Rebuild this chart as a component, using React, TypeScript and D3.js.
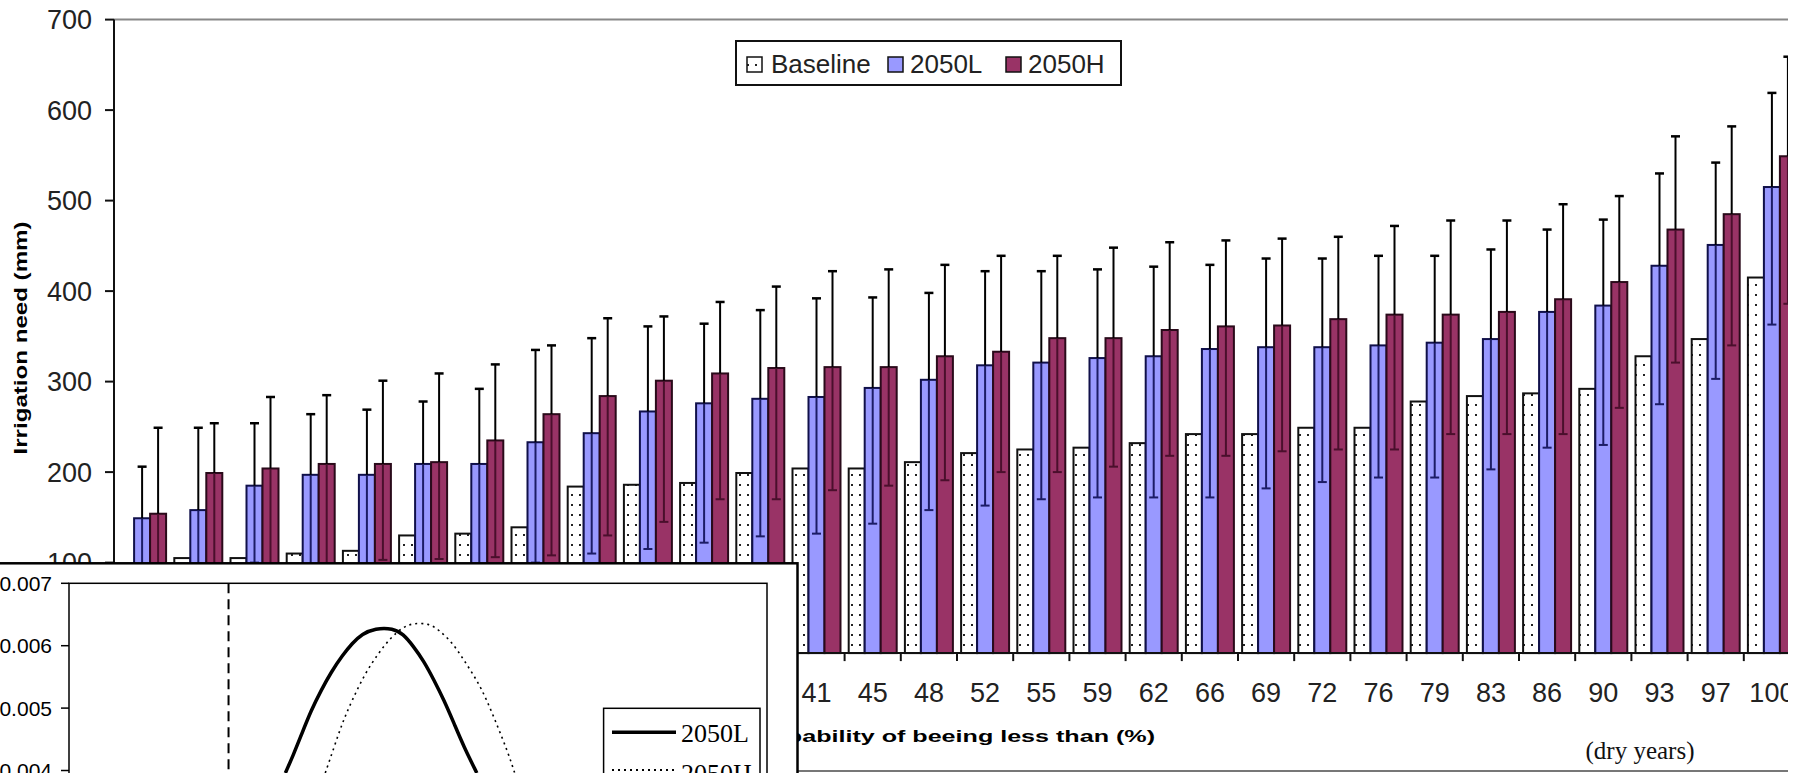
import * as d3 from "d3";

// probability of being less than (%), one group per year rank
const categories = ["0", "3", "7", "10", "14", "17", "21", "24", "28", "31", "34", "38", "41", "45", "48",
  "52", "55", "59", "62", "66", "69", "72", "76", "79", "83", "86", "90", "93", "97", "100"];

// irrigation need (mm)
const baseline = [85, 105, 105, 110, 113, 130, 132, 139, 184, 186, 188, 199, 204, 204, 211,
  221, 225, 227, 232, 242, 242, 249, 249, 278, 284, 287, 292, 328, 347, 415];
const s2050L = [149, 158, 185, 197, 197, 209, 209, 233, 243, 267, 276, 281, 283, 293, 302,
  318, 321, 326, 328, 336, 338, 338, 340, 343, 347, 377, 384, 428, 451, 515];
const s2050H = [154, 199, 204, 209, 209, 211, 235, 264, 284, 301, 309, 315, 316, 316, 328,
  333, 348, 348, 357, 361, 362, 369, 374, 374, 377, 391, 410, 468, 485, 549];

// error bar ends
const s2050LHi = [206, 249, 254, 264, 269, 278, 292, 335, 348, 361, 364, 379, 392, 393, 398,
  422, 422, 424, 427, 429, 436, 436, 439, 439, 446, 468, 479, 530, 542, 619];
const s2050LLo = [90, 95, 100, 98, 96, 95, 97, 100, 110, 115, 122, 129, 132, 143, 158,
  163, 170, 172, 172, 172, 182, 189, 194, 194, 203, 227, 230, 275, 303, 363];
const s2050HHi = [249, 254, 283, 285, 301, 309, 319, 340, 370, 372, 388, 405, 422, 424, 429,
  439, 439, 448, 454, 456, 458, 460, 472, 478, 478, 496, 505, 571, 582, 659];
const s2050HLo = [70, 85, 90, 95, 103, 104, 106, 108, 130, 145, 170, 170, 180, 185, 191,
  200, 200, 206, 218, 218, 223, 225, 225, 242, 242, 242, 271, 321, 340, 386];

const yTicks = [0, 100, 200, 300, 400, 500, 600, 700];

// inset: density curves (irrigation need mm, density)
const insetTicks = [0.004, 0.005, 0.006, 0.007];
const insetCurveL: [number, number][] = [
  [217, 0.00396], [225, 0.00425], [233, 0.00457], [243, 0.00497], [253, 0.00529], [263, 0.00558],
  [274, 0.00584], [284, 0.00604], [294, 0.00619], [307, 0.00628], [325, 0.00628], [335, 0.00619],
  [345, 0.00600], [356, 0.00575], [366, 0.00545], [376, 0.00513], [386, 0.00476], [396, 0.00438],
  [409, 0.00396]];
const insetCurveH: [number, number][] = [
  [257, 0.00396], [266, 0.00438], [274, 0.00476], [284, 0.00513], [297, 0.00556], [310, 0.00587],
  [322, 0.00612], [335, 0.0063], [345, 0.00636], [361, 0.00636], [371, 0.00625], [384, 0.00606],
  [396, 0.00577], [409, 0.00545], [419, 0.00513], [430, 0.0047], [440, 0.0043], [447, 0.00396]];
const insetDry = 160;

const FONT = "'Liberation Sans', Arial, sans-serif";
const SERIF = "'Liberation Serif', 'Times New Roman', serif";
const BLUE = "#9999ff";
const MAROON = "#993366";

export default function App() {
  const x = d3.scaleBand<string>().domain(categories).range([114, 1800]).paddingInner(0.146).paddingOuter(0.073);
  const xs = d3.scaleBand<string>().domain(["b", "l", "h"]).range([0, x.bandwidth()]);
  const y = d3.scaleLinear().domain([0, 700]).range([653.1, 19.6]);

  const ix = d3.scaleLinear().domain([0, 700]).range([69, 767]);
  const iy = d3.scaleLinear().domain([0, 0.007]).range([583.3 + 7 * 62.4, 583.3]);
  const line = d3.line<[number, number]>().x((d) => ix(d[0])).y((d) => iy(d[1])).curve(d3.curveBasis);

  const step = x.step();
  const x0 = x.range()[0];

  const errBar = (cx: number, v: number, hi: number, lo: number, inner: string, key: string) => (
    <g key={key}>
      <line x1={cx} x2={cx} y1={y(v)} y2={y(lo)} stroke={inner} strokeWidth={2} />
      <line x1={cx - 4.5} x2={cx + 4.5} y1={y(lo)} y2={y(lo)} stroke={inner} strokeWidth={2} />
      <line x1={cx} x2={cx} y1={y(v)} y2={y(hi)} stroke="#000" strokeWidth={2} />
      <line x1={cx - 4.5} x2={cx + 4.5} y1={y(hi)} y2={y(hi)} stroke="#000" strokeWidth={2.5} />
    </g>
  );

  return (
    <svg width={1804} height={773} style={{ position: "absolute", left: 0, top: 0, background: "#fff" }}>
      <defs>
        <pattern id="dots" patternUnits="userSpaceOnUse" width={8} height={10}>
          <rect width={8} height={10} fill="#fff" />
          <rect x={3} y={4} width={2} height={2} fill="#222" />
        </pattern>
        <clipPath id="insetClip">
          <rect x={69} y={583.3} width={698} height={200} />
        </clipPath>
      </defs>
      <rect width={1804} height={773} fill="#fff" />

      {/* main frame */}
      <line x1={114} x2={1800} y1={19.6} y2={19.6} stroke="#888" strokeWidth={2} />

      {/* bars */}
      {categories.map((c, i) => {
        const bx = x(c)!;
        return (
          <g key={c}>
            <rect x={bx + xs("b")!} y={y(baseline[i])} width={xs.bandwidth()} height={y(0) - y(baseline[i])}
              fill="url(#dots)" stroke="#111" strokeWidth={2} />
            <rect x={bx + xs("l")!} y={y(s2050L[i])} width={xs.bandwidth()} height={y(0) - y(s2050L[i])}
              fill={BLUE} stroke="#10104a" strokeWidth={2} />
            <rect x={bx + xs("h")!} y={y(s2050H[i])} width={xs.bandwidth()} height={y(0) - y(s2050H[i])}
              fill={MAROON} stroke="#2a0a1a" strokeWidth={2} />
          </g>
        );
      })}
      {categories.map((c, i) => {
        const bx = x(c)!;
        const w = xs.bandwidth();
        return (
          <g key={"e" + c}>
            {errBar(bx + xs("l")! + w / 2, s2050L[i], s2050LHi[i], s2050LLo[i], "#1c1c66", "l")}
            {errBar(bx + xs("h")! + w / 2, s2050H[i], s2050HHi[i], s2050HLo[i], "#4a0f2c", "h")}
          </g>
        );
      })}

      {/* y axis */}
      <line x1={114} x2={114} y1={19.6} y2={y(0)} stroke="#111" strokeWidth={2} />
      {yTicks.map((t) => (
        <g key={t}>
          <line x1={105} x2={114} y1={y(t)} y2={y(t)} stroke="#111" strokeWidth={2} />
          <text x={92} y={y(t)} dy="0.36em" textAnchor="end" fontFamily={FONT} fontSize={27} fill="#222">{t}</text>
        </g>
      ))}
      <text transform={`translate(27,${338}) rotate(-90)`} textAnchor="middle" fontFamily={FONT} fontWeight="bold"
        fontSize={18} textLength={233} lengthAdjust="spacingAndGlyphs" fill="#000">Irrigation need (mm)</text>

      {/* x axis */}
      <line x1={114} x2={1800} y1={y(0)} y2={y(0)} stroke="#111" strokeWidth={2} />
      {d3.range(1, categories.length + 1).map((i) => (
        <line key={i} x1={x0 + i * step} x2={x0 + i * step} y1={y(0)} y2={y(0) + 8} stroke="#111" strokeWidth={2} />
      ))}
      {categories.map((c) => (
        <text key={c} x={x(c)! + x.bandwidth() / 2} y={702} textAnchor="middle" fontFamily={FONT} fontSize={27} fill="#222">{c}</text>
      ))}
      <text x={745} y={742} fontFamily={FONT} fontWeight="bold" fontSize={17} textLength={410}
        lengthAdjust="spacingAndGlyphs" fill="#000">Probability of beeing less than (%)</text>

      {/* legend */}
      <rect x={736} y={41} width={385} height={44} fill="#fff" stroke="#111" strokeWidth={2} />
      <rect x={747} y={57} width={15} height={15} fill="url(#dots)" stroke="#111" strokeWidth={1.5} />
      <text x={771} y={73} fontFamily={FONT} fontSize={26} fill="#222">Baseline</text>
      <rect x={888} y={57} width={15} height={15} fill={BLUE} stroke="#111" strokeWidth={1.5} />
      <text x={910} y={73} fontFamily={FONT} fontSize={26} fill="#222">2050L</text>
      <rect x={1006} y={57} width={15} height={15} fill={MAROON} stroke="#111" strokeWidth={1.5} />
      <text x={1028} y={73} fontFamily={FONT} fontSize={26} fill="#222">2050H</text>

      {/* crop on the right */}
      <rect x={1788} y={0} width={16} height={773} fill="#fff" />
      <line x1={797} x2={1788} y1={771} y2={771} stroke="#777" strokeWidth={2} />
      <text x={1640} y={759} textAnchor="middle" fontFamily={SERIF} fontSize={25} fill="#111">(dry years)</text>

      {/* inset */}
      <rect x={-2} y={563.3} width={799.5} height={220} fill="#fff" stroke="#000" strokeWidth={2.5} />
      <rect x={69} y={583.3} width={698} height={200} fill="#fff" stroke="#000" strokeWidth={1.5} />
      {insetTicks.map((t) => (
        <g key={t}>
          <line x1={61} x2={69} y1={iy(t)} y2={iy(t)} stroke="#000" strokeWidth={1.5} />
          <text x={52} y={iy(t)} dy="0.36em" textAnchor="end" fontFamily={FONT} fontSize={21} fill="#000">{t.toFixed(3)}</text>
        </g>
      ))}
      <g clipPath="url(#insetClip)">
        <line x1={ix(insetDry)} x2={ix(insetDry)} y1={583.3} y2={780} stroke="#000" strokeWidth={2} strokeDasharray="10,6" />
        <path d={line(insetCurveH)!} fill="none" stroke="#000" strokeWidth={1.6} strokeDasharray="2,4" />
        <path d={line(insetCurveL)!} fill="none" stroke="#000" strokeWidth={3.5} />
      </g>
      <rect x={603.6} y={708.3} width={156.4} height={90} fill="#fff" stroke="#000" strokeWidth={1.5} />
      <line x1={612} x2={676} y1={732.3} y2={732.3} stroke="#000" strokeWidth={3.5} />
      <text x={681} y={742} fontFamily={SERIF} fontSize={26} fill="#000">2050L</text>
      <line x1={612} x2={676} y1={770} y2={770} stroke="#000" strokeWidth={1.8} strokeDasharray="2,4" />
      <text x={681} y={782} fontFamily={SERIF} fontSize={26} fill="#000">2050H</text>
    </svg>
  );
}
